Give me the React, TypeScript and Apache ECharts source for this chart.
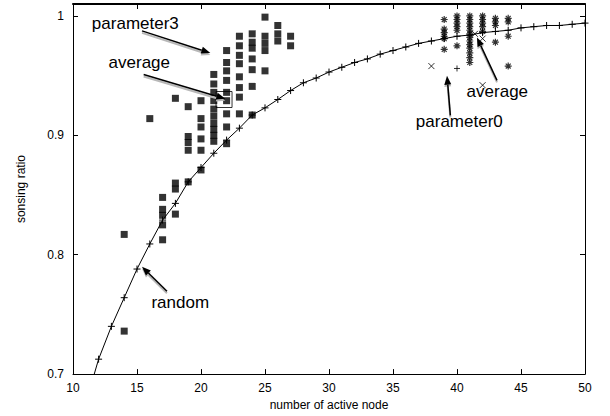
import React, { useEffect, useRef } from "react";
import * as echarts from "echarts";

// random (line)
const randomX = [12, 13, 14, 15, 16, 17, 18, 19, 20, 21, 22, 23, 24, 25, 26, 27, 28, 29, 30, 31, 32, 33, 34, 35, 36, 37, 38, 39, 40, 41, 42, 43, 44, 45, 46, 47, 48, 49, 50];
const randomY = [0.7125, 0.74, 0.764, 0.788, 0.809, 0.829, 0.843, 0.861, 0.873, 0.885, 0.896, 0.906, 0.917, 0.923, 0.93, 0.9375, 0.944, 0.948, 0.953, 0.957, 0.961, 0.964, 0.968, 0.971, 0.974, 0.977, 0.979, 0.981, 0.983, 0.984, 0.986, 0.987, 0.988, 0.99, 0.991, 0.992, 0.992, 0.993, 0.994];
const randomStart = [11.66, 0.7];
const randomExtraX = [40];
const randomExtraY = [0.956];

// parameter3 (filled squares)
const p3X = [14, 14, 16, 17, 17, 17, 17, 17, 18, 18, 18, 18, 19, 19, 19, 19, 19, 20, 20, 20, 20, 20, 20, 21, 21, 21, 21, 21, 21, 21, 21, 21, 21, 22, 22, 22, 22, 22, 22, 22, 22, 22, 23, 23, 23, 23, 23, 23, 23, 23, 24, 24, 24, 24, 24, 24, 24, 25, 25, 25, 25, 25, 26, 26, 26, 27, 27];
const p3Y = [0.817, 0.736, 0.914, 0.848, 0.838, 0.833, 0.825, 0.8125, 0.931, 0.86, 0.855, 0.834, 0.924, 0.899, 0.894, 0.8875, 0.861, 0.929, 0.914, 0.907, 0.897, 0.8875, 0.871, 0.951, 0.943, 0.936, 0.929, 0.922, 0.916, 0.91, 0.905, 0.9, 0.895, 0.971, 0.961, 0.954, 0.946, 0.936, 0.929, 0.918, 0.907, 0.893, 0.983, 0.975, 0.967, 0.96, 0.949, 0.94, 0.932, 0.918, 0.985, 0.978, 0.973, 0.964, 0.955, 0.941, 0.917, 0.999, 0.983, 0.977, 0.971, 0.954, 0.992, 0.985, 0.979, 0.983, 0.975];
const p3AvgX = [21.8];
const p3AvgY = [0.93];

// parameter0 (asterisks)
const p0X = [39, 39, 39, 39, 39, 39, 40, 40, 40, 40, 40, 40, 41, 41, 41, 41, 41, 41, 41, 41, 41, 41, 41, 41, 41, 42, 42, 42, 42, 42, 43, 43, 43, 43, 44, 44, 44, 44];
const p0Y = [0.997, 0.989, 0.986, 0.983, 0.981, 0.972, 1.0, 0.997, 0.994, 0.991, 0.988, 0.975, 1.0, 0.997, 0.994, 0.991, 0.988, 0.985, 0.982, 0.979, 0.976, 0.973, 0.969, 0.965, 0.961, 1.0, 0.997, 0.994, 0.991, 0.987, 0.998, 0.995, 0.992, 0.978, 0.998, 0.995, 0.983, 0.958];
const p0CrossX = [38, 42, 42, 41.4];
const p0CrossY = [0.958, 0.942, 0.981, 0.985];

// annotations (data coordinates)
const annTexts = ["parameter3", "average", "random", "parameter0", "average"];
const annTextAt = [[14.87, 0.994], [15.18, 0.961], [18.38, 0.76], [40.18, 0.9117], [43.15, 0.9367]];
const annFrom = [[15.39, 0.9875], [15.52, 0.951], [17.34, 0.7694], [39.48, 0.9167], [43.125, 0.946]];
const annTo = [[20.73, 0.969], [21.9, 0.9306], [15.39, 0.79], [39.22, 0.95], [41.56, 0.982]];

const FONT = '"Liberation Sans", Arial, Helvetica, sans-serif';
const PLUS = "path://M5,0L5,10M0,5L10,5";
const CROSS = "path://M0,0L10,10M10,0L0,10";
const STAR = "path://M5,0L5,10M0,5L10,5M1.5,1.5L8.5,8.5M8.5,1.5L1.5,8.5";

const zip = (xs: number[], ys: number[]) => xs.map((x, i) => [x, ys[i]]);

export default function App() {
  const ref = useRef<HTMLDivElement>(null);
  useEffect(() => {
    if (!ref.current) return;
    const chart = echarts.init(ref.current, undefined, { renderer: "svg" });
    const strokeSym = { color: "rgba(0,0,0,0)", borderColor: "#000", borderWidth: 1 };
    const xBase = {
      type: "value",
      min: 10,
      max: 50,
      interval: 5,
      splitLine: { show: false },
      axisLine: { onZero: false, lineStyle: { color: "#000", width: 1 } },
      axisTick: { inside: true, length: 5, lineStyle: { color: "#000" } },
    };
    const yBase = {
      type: "value",
      min: 0.7,
      max: 1.01,
      interval: 0.1,
      splitLine: { show: false },
      axisLine: { onZero: false, lineStyle: { color: "#000", width: 1 } },
      axisTick: { inside: true, length: 5, lineStyle: { color: "#000" } },
    };
    const option: any = {
      animation: false,
      backgroundColor: "#fff",
      grid: { left: 73, right: 25, top: 4, bottom: 41, containLabel: false },
      xAxis: [
        {
          ...xBase,
          position: "bottom",
          name: "number of active node",
          nameLocation: "middle",
          nameGap: 18,
          nameTextStyle: { color: "#000", fontSize: 12, fontFamily: FONT },
          axisLabel: { color: "#000", fontSize: 12, fontFamily: FONT, margin: 8 },
        },
        {
          ...xBase,
          position: "top",
          axisLine: { onZero: false, lineStyle: { color: "#000", width: 2 } },
          axisLabel: { show: false },
        },
      ],
      yAxis: [
        {
          ...yBase,
          position: "left",
          name: "sonsing ratio",
          nameLocation: "middle",
          nameGap: 46,
          nameTextStyle: { color: "#000", fontSize: 12, fontFamily: FONT },
          axisLabel: {
            color: "#000",
            fontSize: 12,
            fontFamily: FONT,
            margin: 9,
            formatter: (v: number) =>
              Math.abs(v * 10 - Math.round(v * 10)) < 1e-6 ? String(Math.round(v * 10) / 10) : "",
          },
        },
        { ...yBase, position: "right", axisLabel: { show: false } },
      ],
      series: [
        {
          name: "random",
          type: "line",
          data: [{ value: randomStart, symbol: "none" }, ...zip(randomX, randomY)],
          symbol: PLUS,
          symbolSize: 7,
          itemStyle: strokeSym,
          lineStyle: { color: "#000", width: 1 },
          emphasis: { disabled: true },
          z: 3,
        },
        {
          name: "random samples",
          type: "scatter",
          data: zip(randomExtraX, randomExtraY),
          symbol: PLUS,
          symbolSize: 6,
          itemStyle: strokeSym,
          emphasis: { disabled: true },
        },
        {
          name: "parameter3",
          type: "scatter",
          data: zip(p3X, p3Y),
          symbol: "rect",
          symbolSize: 7,
          itemStyle: { color: "#000" },
          emphasis: { disabled: true },
        },
        {
          name: "parameter3 average",
          type: "scatter",
          data: zip(p3AvgX, p3AvgY),
          symbol: "rect",
          symbolSize: 16,
          itemStyle: { color: "rgba(0,0,0,0)", borderColor: "#000", borderWidth: 1 },
          emphasis: { disabled: true },
        },
        {
          name: "parameter0",
          type: "scatter",
          data: zip(p0X, p0Y),
          symbol: STAR,
          symbolSize: 7,
          itemStyle: { ...strokeSym, borderWidth: 1.2 },
          emphasis: { disabled: true },
        },
        {
          name: "parameter0 cross",
          type: "scatter",
          data: zip(p0CrossX, p0CrossY),
          symbol: CROSS,
          symbolSize: 6,
          itemStyle: strokeSym,
          emphasis: { disabled: true },
        },
      ],
    };
    chart.setOption(option);

    const px = (p: number[]) => chart.convertToPixel({ xAxisIndex: 0, yAxisIndex: 0 }, p) as number[];
    const graphics: any[] = [];
    const arrow = (a: number[], b: number[], color: string, width: number, dx: number, dy: number) => {
      const ax = a[0] + dx, ay = a[1] + dy, bx = b[0] + dx, by = b[1] + dy;
      const len = Math.hypot(bx - ax, by - ay);
      const ux = (bx - ax) / len, uy = (by - ay) / len;
      const hl = 9, hw = 3.5;
      const baseX = bx - ux * hl, baseY = by - uy * hl;
      graphics.push({
        type: "line",
        shape: { x1: ax, y1: ay, x2: baseX, y2: baseY },
        style: { stroke: color, lineWidth: width },
        z: 100,
      });
      graphics.push({
        type: "polygon",
        shape: {
          points: [
            [bx, by],
            [baseX - uy * hw, baseY + ux * hw],
            [baseX + uy * hw, baseY - ux * hw],
          ],
        },
        style: { fill: color },
        z: 100,
      });
    };
    annTexts.forEach((t, i) => {
      const a = px(annFrom[i]);
      const b = px(annTo[i]);
      arrow(a, b, "#b8b8b8", 2, 0, 2);
      arrow(a, b, "#000", 1.5, 0, 0);
      const c = px(annTextAt[i]);
      graphics.push({
        type: "text",
        x: c[0],
        y: c[1],
        style: {
          text: t,
          fill: "#000",
          font: `17px ${FONT}`,
          align: "center",
          verticalAlign: "middle",
        },
        z: 101,
      });
    });
    chart.setOption({ graphic: graphics });

    return () => chart.dispose();
  }, []);
  return <div ref={ref} style={{ width: 610, height: 416, position: "absolute", left: 0, top: 0 }} />;
}
